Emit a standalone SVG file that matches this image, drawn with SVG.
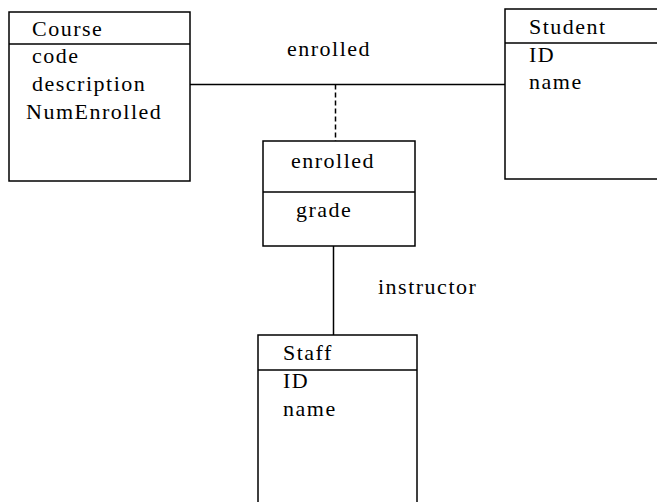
<svg xmlns="http://www.w3.org/2000/svg" width="657" height="502" viewBox="0 0 657 502">
<style>
.box{fill:#fff;stroke:#000;stroke-width:1.5}
.ln{stroke:#000;stroke-width:1.5;fill:none}
.dash{stroke:#000;stroke-width:1.5;fill:none;stroke-dasharray:5,3}
text{font-family:'Liberation Serif','Times New Roman',serif;font-size:22px;letter-spacing:1.5px;fill:#000}
</style>
<rect width="657" height="502" fill="#fff"/>
<g id="connectors">
<line class="ln" x1="190" y1="84.5" x2="505" y2="84.5"/>
<line class="dash" x1="335.5" y1="84.5" x2="335.5" y2="141"/>
<line class="ln" x1="333.5" y1="246" x2="333.5" y2="335"/>
<text x="287" y="56">enrolled</text>
<text x="378" y="294">instructor</text>
</g>
<g id="course">
<rect class="box" x="9" y="12" width="181" height="169"/>
<line class="ln" x1="9" y1="44" x2="190" y2="44"/>
<text x="32" y="36">Course</text>
<text x="32" y="63">code</text>
<text x="32" y="91">description</text>
<text x="26" y="119">NumEnrolled</text>
</g>
<g id="student">
<rect class="box" x="505" y="9" width="160" height="170"/>
<line class="ln" x1="505" y1="43" x2="660" y2="43"/>
<text x="529" y="34">Student</text>
<text x="529" y="62">ID</text>
<text x="529" y="89">name</text>
</g>
<g id="enrolled">
<rect class="box" x="263" y="141" width="152" height="105"/>
<line class="ln" x1="263" y1="192" x2="415" y2="192"/>
<text x="291" y="168">enrolled</text>
<text x="296" y="217">grade</text>
</g>
<g id="staff">
<rect class="box" x="258" y="335" width="159" height="180"/>
<line class="ln" x1="258" y1="370" x2="417" y2="370"/>
<text x="283" y="360">Staff</text>
<text x="283" y="388">ID</text>
<text x="283" y="416">name</text>
</g>
</svg>
